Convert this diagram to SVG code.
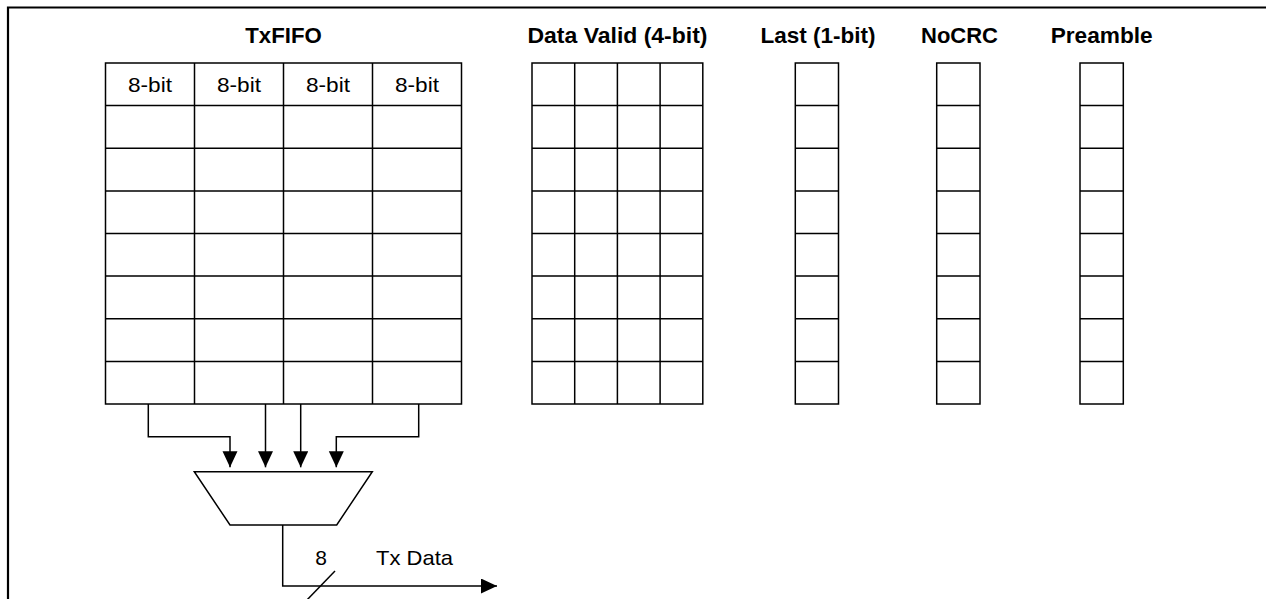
<svg xmlns="http://www.w3.org/2000/svg" width="1266" height="599" viewBox="0 0 1266 599">
  <defs>
    <style>
      .grid { fill: none; stroke: #000; stroke-width: 1.5; }
      .conn { fill: none; stroke: #000; stroke-width: 1.5; }
      .frame { fill: none; stroke: #000; stroke-width: 2.2; }
      .title { font-family: "Liberation Sans", Arial, sans-serif; font-weight: bold; font-size: 21.5px; fill: #000; text-anchor: middle; }
      .lbl { font-family: "Liberation Sans", Arial, sans-serif; font-size: 21px; fill: #000; }
      .mid { text-anchor: middle; }
    </style>
    <marker id="arr" markerUnits="userSpaceOnUse" markerWidth="17" markerHeight="16" refX="16" refY="7.5" orient="auto" viewBox="0 0 17 16">
      <path d="M0,0 L16,7.5 L0,15 z" fill="#000"/>
    </marker>
  </defs>
  <rect width="1266" height="599" fill="#fff"/>
  <path class="frame" d="M8,599 V7.5 H1266"/>

  <g id="txfifo">
    <text class="title" x="283.5" y="42.5" textLength="76.5" lengthAdjust="spacingAndGlyphs">TxFIFO</text>
    <rect class="grid" x="105.5" y="63" width="356" height="341"/>
    <path class="grid" d="M194.5,63 V404 M283.5,63 V404 M372.5,63 V404 M105.5,105.6 H461.5 M105.5,148.3 H461.5 M105.5,190.9 H461.5 M105.5,233.5 H461.5 M105.5,276.1 H461.5 M105.5,318.8 H461.5 M105.5,361.4 H461.5"/>
    <text class="lbl mid" x="150" y="91.5" textLength="44" lengthAdjust="spacingAndGlyphs">8-bit</text>
    <text class="lbl mid" x="239" y="91.5" textLength="44" lengthAdjust="spacingAndGlyphs">8-bit</text>
    <text class="lbl mid" x="328" y="91.5" textLength="44" lengthAdjust="spacingAndGlyphs">8-bit</text>
    <text class="lbl mid" x="417" y="91.5" textLength="44" lengthAdjust="spacingAndGlyphs">8-bit</text>
  </g>

  <g id="datavalid">
    <text class="title" x="617.5" y="43" textLength="180" lengthAdjust="spacingAndGlyphs">Data Valid (4-bit)</text>
    <rect class="grid" x="532" y="63" width="170.8" height="341"/>
    <path class="grid" d="M574.7,63 V404 M617.4,63 V404 M660.1,63 V404 M532,105.6 H702.8 M532,148.3 H702.8 M532,190.9 H702.8 M532,233.5 H702.8 M532,276.1 H702.8 M532,318.8 H702.8 M532,361.4 H702.8"/>
  </g>

  <g id="last">
    <text class="title" x="818" y="43" textLength="115" lengthAdjust="spacingAndGlyphs">Last (1-bit)</text>
    <rect class="grid" x="795.3" y="63" width="43.2" height="341"/>
    <path class="grid" d="M795.3,105.6 H838.5 M795.3,148.3 H838.5 M795.3,190.9 H838.5 M795.3,233.5 H838.5 M795.3,276.1 H838.5 M795.3,318.8 H838.5 M795.3,361.4 H838.5"/>
  </g>

  <g id="nocrc">
    <text class="title" x="959.5" y="43" textLength="77" lengthAdjust="spacingAndGlyphs">NoCRC</text>
    <rect class="grid" x="936.7" y="63" width="43.3" height="341"/>
    <path class="grid" d="M936.7,105.6 H980 M936.7,148.3 H980 M936.7,190.9 H980 M936.7,233.5 H980 M936.7,276.1 H980 M936.7,318.8 H980 M936.7,361.4 H980"/>
  </g>

  <g id="preamble">
    <text class="title" x="1101.7" y="43" textLength="102" lengthAdjust="spacingAndGlyphs">Preamble</text>
    <rect class="grid" x="1080" y="63" width="43.3" height="341"/>
    <path class="grid" d="M1080,105.6 H1123.3 M1080,148.3 H1123.3 M1080,190.9 H1123.3 M1080,233.5 H1123.3 M1080,276.1 H1123.3 M1080,318.8 H1123.3 M1080,361.4 H1123.3"/>
  </g>

  <g id="mux">
    <polygon class="grid" points="194.3,471.7 372.3,471.7 336.7,525 230,525"/>
  </g>

  <g id="connectors">
    <path class="conn" marker-end="url(#arr)" d="M148.3,404 V436.7 H230 V467.3"/>
    <path class="conn" marker-end="url(#arr)" d="M265.5,404 V467.3"/>
    <path class="conn" marker-end="url(#arr)" d="M300.7,404 V467.3"/>
    <path class="conn" marker-end="url(#arr)" d="M418.7,404 V436.7 H336.3 V467.3"/>
    <path class="conn" marker-end="url(#arr)" d="M282.7,525 V586 H497"/>
    <path class="conn" d="M305,602 L335,571"/>
    <text class="lbl mid" x="321" y="565">8</text>
    <text class="lbl" x="376" y="565" textLength="77" lengthAdjust="spacingAndGlyphs">Tx Data</text>
  </g>
</svg>
